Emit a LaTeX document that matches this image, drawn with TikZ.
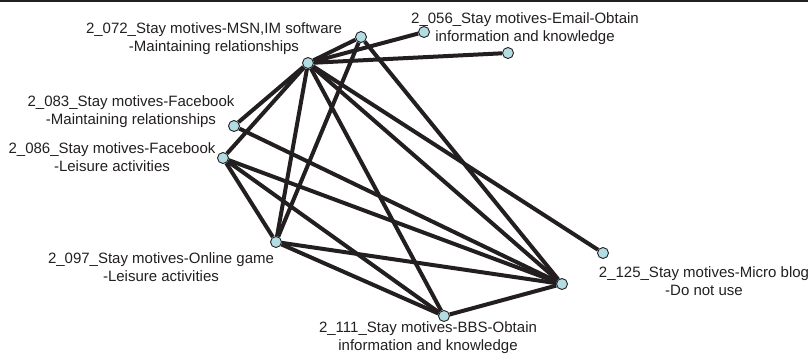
\documentclass[tikz,border=0pt]{standalone}
\usepackage{fontspec}
\setmainfont{Liberation Sans}
\usetikzlibrary{backgrounds}
\definecolor{ink}{RGB}{35,31,32}
\definecolor{dotfill}{RGB}{178,221,226}
\begin{document}
\begin{tikzpicture}[x=1pt,y=-1pt,
  dot/.style={circle,draw=ink,line width=0.9pt,fill=dotfill,minimum size=11pt,inner sep=0pt},
  tie/.style={draw=ink,line width=4pt},
  lbl/.style={align=center,anchor=north,inner sep=0pt,text=ink,font=\fontsize{15}{18}\selectfont}]
\useasboundingbox (0,0) rectangle (808,354);
% rule along the top edge
\draw[ink,line width=2pt] (0,1) -- (808,1);

% vertices
\node[dot] (top)   at (361,37)  {};
\node[dot] (hub)   at (308,63)  {};
\node[dot] (mail)  at (424,32)  {};
\node[dot] (far)   at (508,53)  {};
\node[dot] (fbm)   at (234,126) {};
\node[dot] (fbl)   at (223,158) {};
\node[dot] (game)  at (276,242) {};
\node[dot] (bbs)   at (444,316) {};
\node[dot] (sink)  at (562,284) {};
\node[dot] (micro) at (603,253) {};

% labels
\node[lbl] (l072) at (214,22)  {2\_072\_Stay motives-MSN,IM software\\-Maintaining relationships};
\node[lbl] (l056) at (525,12)  {2\_056\_Stay motives-Email-Obtain\\information and knowledge};
\node[lbl] (l083) at (131,95)  {2\_083\_Stay motives-Facebook\\-Maintaining relationships};
\node[lbl] (l086) at (112,142) {2\_086\_Stay motives-Facebook\\-Leisure activities};
\node[lbl] (l097) at (161,252) {2\_097\_Stay motives-Online game\\-Leisure activities};
\node[lbl] (l111) at (428,321) {2\_111\_Stay motives-BBS-Obtain\\information and knowledge};
\node[lbl] (l125) at (704,266) {2\_125\_Stay motives-Micro blog\\-Do not use};

% edges
\begin{scope}[on background layer]
  \draw[tie] (hub) -- (top);
  \draw[tie] (hub) -- (mail);
  \draw[tie] (hub) -- (far);
  \draw[tie] (hub) -- (fbm);
  \draw[tie] (hub) -- (fbl);
  \draw[tie] (hub) -- (game);
  \draw[tie] (hub) -- (bbs);
  \draw[tie] (hub) -- (sink);
  \draw[tie] (hub) -- (micro);
  \draw[tie] (top) -- (game);
  \draw[tie] (top) -- (sink);
  \draw[tie] (fbm) -- (sink);
  \draw[tie] (fbl) -- (game);
  \draw[tie] (fbl) -- (bbs);
  \draw[tie] (fbl) -- (sink);
  \draw[tie] (game) -- (bbs);
  \draw[tie] (game) -- (sink);
  \draw[tie] (bbs) -- (sink);
\end{scope}
\end{tikzpicture}
\end{document}
